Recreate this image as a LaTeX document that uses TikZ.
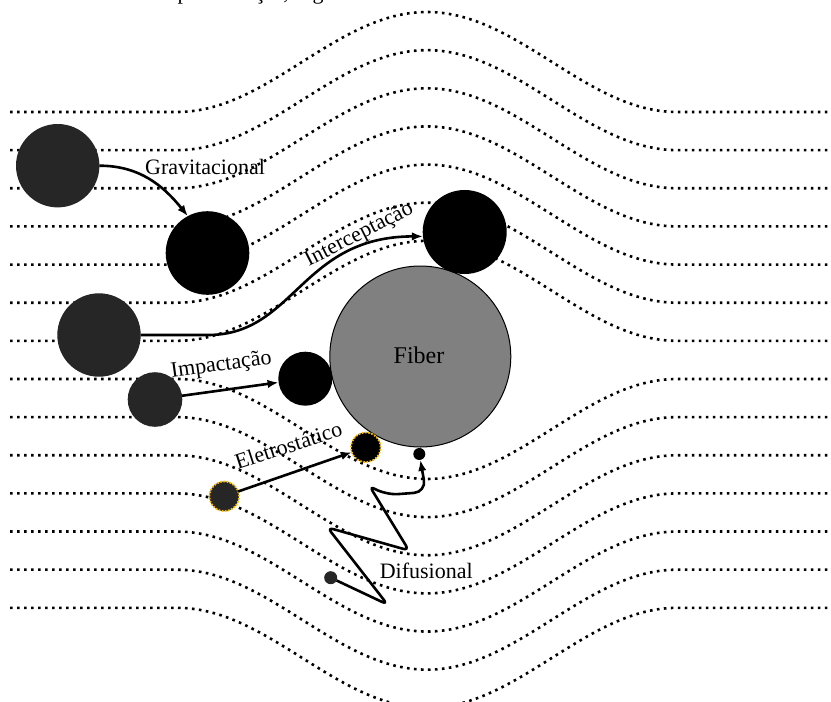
\documentclass[tikz,border=0pt]{standalone}
\usepackage{fontspec}
\setmainfont{Liberation Serif}
\usetikzlibrary{arrows.meta}

\definecolor{particle}{HTML}{262626}
\definecolor{fibergray}{HTML}{808080}
\definecolor{charge}{HTML}{FFC000}

\begin{document}
\begin{tikzpicture}[x=0.5pt, y=0.5pt,
  stream/.style={line width=1.3pt, dash pattern=on 1.3pt off 2.2pt},
  grain/.style={circle, fill=particle, inner sep=0pt, outer sep=0pt, minimum size=#1},
  caught/.style={circle, fill=black, inner sep=0pt, outer sep=0pt, minimum size=#1},
  charged/.style={circle, draw=charge, line width=0.9pt, dash pattern=on 0.8pt off 0.8pt,
                  inner sep=0pt, outer sep=0pt, minimum size=14.8pt},
  fiber/.style={circle, fill=fibergray, draw=black, line width=0.5pt, inner sep=0pt,
                outer sep=0pt, minimum size=90.5pt},
  lbl/.style={font=\fontsize{11}{13}\selectfont, inner sep=0pt},
  arrowline/.style={line width=1.3pt, -{Latex[length=5.5pt, width=4.2pt]}},
  declare function={bmp(\t)=0.5*(1+cos(180*min(1,abs(\t-427)/250)));}
]
\fill[white] (0,0) rectangle (831,-702);
\useasboundingbox (0,0) rectangle (831,-702);

% streamlines bending around the fiber
\foreach \k in {0,...,6}
  \draw[stream] plot[domain=10:831, samples=168] (\x, {-(112+38.14*\k) + 100*bmp(\x)});
\foreach \k in {7,...,13}
  \draw[stream] plot[domain=10:831, samples=168] (\x, {-(112+38.14*\k) - 100*bmp(\x)});

% descenders of the line of text above
\node[lbl, anchor=base] (tp) at (183,0.3) {p};
\node[lbl, anchor=base] (tc) at (260,0.3) {ç};
\node[lbl, anchor=base] (tk) at (286,0.3) {,};
\node[lbl, anchor=base] (tg) at (318,0.3) {g};

% fiber
\node[fiber] (fib) at (420.3,-356.5) {};
\node[font=\fontsize{12}{14}\selectfont, inner sep=0pt, anchor=base] (lf) at (419,-363) {Fiber};

% particles
\node[grain=41.7pt] (g0) at (57.7,-165.7) {};
\node[caught=41.8pt] (g1) at (207.5,-253) {};
\node[grain=41.7pt] (i0) at (99,-335) {};
\node[caught=42pt] (i1) at (464.7,-232) {};
\node[grain=27.3pt] (m0) at (155,-399.5) {};
\node[caught=27pt] (m1) at (305.3,-378.7) {};
\node[charged, fill=particle] (e0) at (224.2,-496.3) {};
\node[charged, fill=black] (e1) at (365.8,-447.3) {};
\node[grain=6.5pt] (d0) at (330.7,-577.7) {};
\node[caught=6pt] (d1) at (419.3,-454) {};

% gravitational settling
\draw[arrowline] (g0.0) to[out=0, in=129] (g1.118);
\node[lbl, anchor=base] (lg) at (205,-174) {Gravitacional};

% interception
\coordinate (ibend) at (208,-335);
\draw[arrowline] (i0.east) -- (ibend)
  to[out=0, in=180, out looseness=0.94, in looseness=1.32] (i1.186);
\node[lbl, anchor=base, rotate=27] (li) at (361.7,-239.5) {Interceptação};

% inertial impaction
\draw[arrowline] (m0) -- (m1);
\node[lbl, anchor=base, rotate=8] (lm) at (222,-370.8) {Impactação};

% electrostatic attraction
\draw[arrowline] (e0) -- (e1);
\node[lbl, anchor=base, rotate=18] (le) at (290.8,-452.5) {Eletrostático};

% diffusion: random walk towards the fiber
\coordinate (t1) at (387.5,-604.5);
\coordinate (t2) at (327.5,-527.5);
\coordinate (t3) at (409,-550.5);
\coordinate (t4) at (369.5,-486);
\coordinate (t5) at (386,-495);
\coordinate (t6) at (426,-492);
\draw[arrowline, rounded corners=3pt] (d0) -- (t1) -- (t2) -- (t3) -- (t4)
  [rounded corners=6pt] -- (t5) -- (t6) -- (d1);
\node[lbl, anchor=base] (ld) at (426.3,-578.3) {Difusional};
\end{tikzpicture}
\end{document}
